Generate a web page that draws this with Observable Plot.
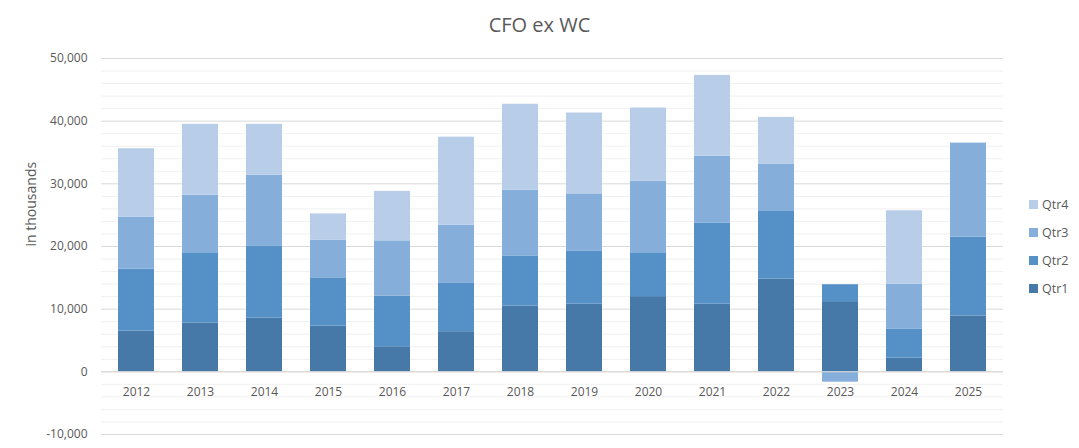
<!DOCTYPE html>
<html>
<head>
<meta charset="utf-8">
<script src="https://cdn.jsdelivr.net/npm/d3@7"></script>
<script src="https://cdn.jsdelivr.net/npm/@observablehq/plot@0.6"></script>
<style>
  html, body { margin: 0; padding: 0; background: #fff; }
  #wrap { position: relative; width: 1079px; height: 448px; font-family: "Open Sans", sans-serif; color: #595959; }
  #title { position: absolute; left: 0; top: 15px; width: 1079px; text-align: center; font-size: 20px; line-height: 20px; color: #595959; }
  .leg { position: absolute; left: 1029px; height: 20px; display: flex; align-items: center; font-size: 12.5px; color: #595959; }
  .leg span.sw { display: inline-block; width: 9px; height: 9px; margin-right: 4px; }
  #chart { position: absolute; left: 0; top: 0; }
</style>
</head>
<body>
<div id="wrap">
  <div id="chart"></div>
  <div id="title">CFO ex WC</div>
  <div id="legend"></div>
</div>
<script>
const years = ["2012","2013","2014","2015","2016","2017","2018","2019","2020","2021","2022","2023","2024","2025"];
const series = ["Qtr1","Qtr2","Qtr3","Qtr4"];
const colors = ["#4678A8","#5591C7","#85AEDB","#B8CDE8"];
const qtr1 = [6500, 7800, 8600, 7300, 4000, 6400, 10500, 10800, 12000, 10800, 14800, 11200, 2200, 8900];
const qtr2 = [9900, 11200, 11500, 7700, 8100, 7800, 8000, 8500, 7000, 12900, 10900, 2700, 4650, 12600];
const qtr3 = [8300, 9200, 11300, 6000, 8800, 9200, 10500, 9100, 11400, 10700, 7400, -1650, 7150, 15000];
const qtr4 = [10900, 11300, 8100, 4200, 7900, 14050, 13700, 12900, 11700, 12900, 7500, 0, 11700, 0];
const majorTicks = [-10000, 0, 10000, 20000, 30000, 40000, 50000];
const minorTicks = [-8000,-6000,-4000,-2000,2000,4000,6000,8000,12000,14000,16000,18000,22000,24000,26000,28000,32000,34000,36000,38000,42000,44000,46000,48000];

const valuesBySeries = [qtr1, qtr2, qtr3, qtr4];
const table = [];
series.forEach((s, i) => {
  years.forEach((y, j) => table.push({year: y, series: s, value: valuesBySeries[i][j]}));
});

const chart = Plot.plot({
  width: 1079,
  height: 448,
  marginLeft: 101,
  marginRight: 76,
  marginTop: 58,
  marginBottom: 14,
  style: {fontFamily: "Open Sans", fontSize: "12px", color: "#595959", background: "white", overflow: "visible"},
  x: {domain: years, paddingInner: 0.43, paddingOuter: 0.215, axis: null},
  y: {domain: [-10000, 50000], ticks: majorTicks, tickSize: 0, tickPadding: 14,
      tickFormat: d => d.toLocaleString("en-US"), label: null},
  color: {domain: series, range: colors},
  marks: [
    Plot.ruleY(minorTicks, {stroke: "#f0f0f0", strokeWidth: 1}),
    Plot.ruleY(majorTicks, {stroke: "#d9d9d9", strokeWidth: 1}),
    Plot.barY(table, Plot.stackY({x: "year", y: "value", fill: "series", order: series})),
    Plot.ruleY([0], {stroke: "#d9d9d9", strokeWidth: 1}),
    Plot.text(years, {x: d => d, y: () => 0, dy: 20, text: d => d, fill: "#595959", fontSize: 12}),
    Plot.text(["in thousands"], {frameAnchor: "left", dx: -70, rotate: -90, text: d => d, fill: "#595959", fontSize: 14})
  ]
});
document.getElementById("chart").appendChild(chart);

const legend = document.getElementById("legend");
const rowCenters = {"Qtr4": 204, "Qtr3": 232, "Qtr2": 260, "Qtr1": 288};
series.slice().reverse().forEach(s => {
  const row = document.createElement("div");
  row.className = "leg";
  row.style.top = (rowCenters[s] - 10) + "px";
  const sw = document.createElement("span");
  sw.className = "sw";
  sw.style.background = colors[series.indexOf(s)];
  row.appendChild(sw);
  row.appendChild(document.createTextNode(s));
  legend.appendChild(row);
});
</script>
</body>
</html>
